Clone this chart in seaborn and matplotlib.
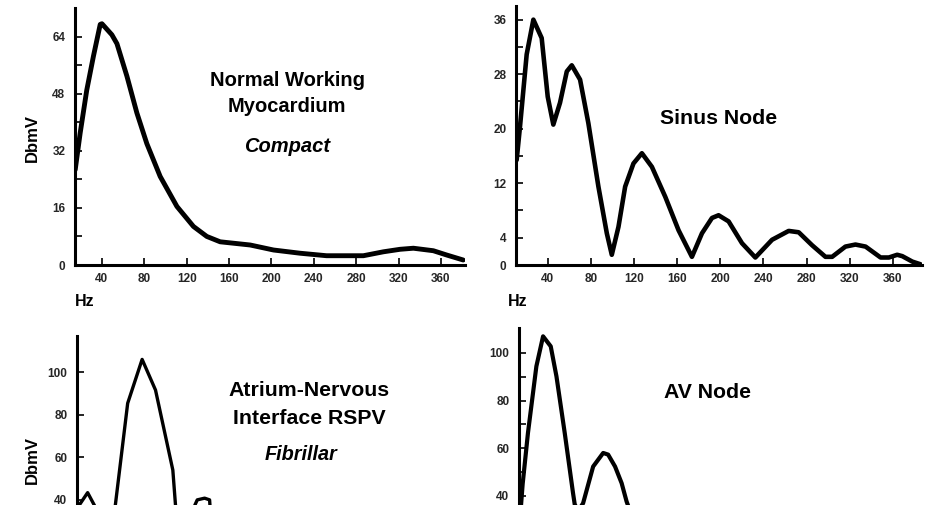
import matplotlib
matplotlib.use("Agg")
import matplotlib.pyplot as plt
import numpy as np
import pandas as pd
import seaborn as sns

sns.set_theme(style="white")
plt.rcParams["font.family"] = ["Liberation Sans Narrow", "Liberation Sans", "DejaVu Sans"]
plt.rcParams["font.weight"] = "bold"

# Normal working myocardium (compact)
myo_hz = [14.8, 19.5, 25.7, 32.0, 38.4, 40.0, 49.4, 54.2, 63.6, 73.0, 82.4, 95.0, 110.8,
          126.4, 139.0, 151.6, 180.0, 202.0, 227.0, 252.0, 286.8, 305.7, 321.4, 334.0,
          352.8, 365.4, 381.0]
myo_db = [26.7, 37.0, 49.0, 58.5, 67.4, 67.6, 64.5, 62.0, 52.9, 42.6, 34.0, 24.8, 16.4,
          10.8, 8.0, 6.5, 5.6, 4.2, 3.3, 2.6, 2.6, 3.7, 4.4, 4.7, 4.0, 2.8, 1.4]

# Sinus node
sinus_hz = [11.2, 14.3, 20.5, 26.7, 34.4, 40.0, 45.2, 51.4, 57.7, 62.3, 70.0, 77.7, 87.0,
            94.8, 99.4, 105.6, 111.8, 119.5, 127.3, 136.6, 149.0, 161.3, 173.7, 183.0,
            192.3, 198.4, 207.7, 220.1, 232.5, 248.0, 263.4, 272.7, 285.1, 297.5, 303.7,
            316.0, 325.3, 334.7, 348.6, 356.3, 364.0, 368.7, 378.0, 385.7]
sinus_db = [15.4, 20.3, 30.9, 36.0, 33.3, 24.7, 20.6, 23.8, 28.4, 29.3, 27.2, 20.8, 11.5,
            4.65, 1.5, 5.6, 11.5, 14.9, 16.4, 14.4, 10.0, 5.1, 1.2, 4.65,
            6.9, 7.3, 6.4, 3.2, 1.1, 3.7, 5.0, 4.8, 2.9, 1.2, 1.2,
            2.7, 3.0, 2.7, 1.1, 1.1, 1.5, 1.3, 0.5, 0.1]

# Atrium-nervous interface RSPV (fibrillar)
rspv_hz = [14.8, 17.0, 24.8, 31.0, 38.0, 45.0, 50.9, 62.5, 76.1, 88.7, 105.0, 107.5,
           114.0, 122.0, 125.8, 128.0, 134.9, 139.6, 140.0, 146.0, 160.0, 180.0, 200.0,
           230.0, 260.0, 290.0, 320.0, 350.0, 378.0]
rspv_db = [30.0, 37.6, 43.4, 37.6, 30.0, 26.0, 37.6, 85.4, 106.0, 91.6, 54.0, 37.6,
           22.0, 28.0, 37.6, 40.0, 40.8, 40.0, 37.0, 24.0, 18.0, 14.0, 12.0,
           10.0, 9.0, 8.0, 7.0, 6.0, 5.0]

# AV node
av_hz = [10.6, 14.0, 18.9, 26.7, 32.9, 40.0, 45.3, 53.0, 60.7, 62.3, 66.0, 70.0, 79.3,
         88.6, 93.2, 99.6, 105.7, 110.3, 118.0, 130.0, 150.0, 180.0, 220.0, 260.0,
         300.0, 340.0, 380.0]
av_db = [25.0, 45.0, 66.4, 94.4, 107.0, 102.8, 90.2, 66.3, 41.0, 36.2, 34.0, 36.9, 52.3,
         58.0, 57.3, 52.3, 45.3, 37.6, 28.0, 22.0, 18.0, 14.0, 10.0, 8.0,
         6.0, 5.0, 4.0]

hz_ticks = [40, 80, 120, 160, 200, 240, 280, 320, 360]

W, H = 932, 505
fig = plt.figure(figsize=(W / 100, H / 100), dpi=100)


def px_axes(x0, x1, ytop, ybot):
    return fig.add_axes([x0 / W, 1 - ybot / H, (x1 - x0) / W, (ybot - ytop) / H])


def px_text(x, y, s, **kw):
    kw.setdefault("ha", "center")
    kw.setdefault("va", "center")
    kw.setdefault("fontweight", "bold")
    fig.text(x / W, 1 - y / H, s, color="black", **kw)


def style(ax, xlim, ylim, yticks, ylabels, yminor=None, show_x=True, tick_fs=8.5):
    ax.set_facecolor("white")
    for side in ["top", "right"]:
        ax.spines[side].set_visible(False)
    for side in ["left", "bottom"]:
        ax.spines[side].set_color("black")
        ax.spines[side].set_linewidth(2.2)
    ax.set_xlim(*xlim)
    ax.set_ylim(*ylim)
    ax.set_xticks(hz_ticks)
    ax.set_xticklabels([str(t) for t in hz_ticks], fontsize=tick_fs, fontweight="bold")
    ax.set_yticks(yticks)
    ax.set_yticklabels(ylabels, fontsize=tick_fs, fontweight="bold")
    if yminor is not None:
        ax.set_yticks(yminor, minor=True)
    ax.tick_params(axis="both", which="both", direction="in", color="black",
                   width=1.2, length=5, left=True, bottom=True)
    ax.tick_params(axis="y", pad=7)
    ax.tick_params(axis="x", pad=6, labelbottom=show_x)
    ax.set_xlabel("")
    ax.set_ylabel("")


def draw(ax, hz, db, lw):
    df = pd.DataFrame({"Hz": hz, "DbmV": db})
    sns.lineplot(data=df, x="Hz", y="DbmV", ax=ax, color="black", linewidth=lw,
                 sort=False, solid_joinstyle="round", solid_capstyle="round")


# top-left
ax1 = px_axes(75, 465, 8, 265)
draw(ax1, myo_hz, myo_db, 3.5)
style(ax1, (14.6, 382.7), (0, 72), [0, 16, 32, 48, 64], ["0", "16", "32", "48", "64"],
      yminor=[8, 24, 40, 56])
px_text(287, 80, "Normal Working", fontsize=14.5)
px_text(287, 107, "Myocardium", fontsize=14.5)
px_text(287, 146, "Compact", fontsize=14.5, style="italic")

# top-right
ax2 = px_axes(516, 922, 6, 265)
draw(ax2, sinus_hz, sinus_db, 3.3)
style(ax2, (10.6, 387), (0, 38), [0, 4, 12, 20, 28, 36], ["0", "4", "12", "20", "28", "36"],
      yminor=[8, 16, 24, 32])
px_text(719, 118, "Sinus Node", fontsize=15.3)

# bottom-left
ax3 = px_axes(77, 465, 336, 585)
draw(ax3, rspv_hz, rspv_db, 2.4)
style(ax3, (14.8, 380), (0, 117), [40, 60, 80, 100], ["40", "60", "80", "100"],
      show_x=False)
px_text(309, 390, "Atrium-Nervous", fontsize=15.3)
px_text(309, 418, "Interface RSPV", fontsize=15.3)
px_text(301, 455, "Fibrillar", fontsize=14.3, style="italic")

# bottom-right
ax4 = px_axes(519, 922, 328, 591)
draw(ax4, av_hz, av_db, 3.0)
style(ax4, (10.6, 384), (0, 110.5), [40, 60, 80, 100], ["40", "60", "80", "100"],
      yminor=[50, 70, 90], show_x=False)
px_text(708, 393, "AV Node", fontsize=15.3)

# axis labels
px_text(75, 302, "Hz", ha="left", fontsize=11.5)
px_text(508, 302, "Hz", ha="left", fontsize=11.5)
px_text(32, 138, "DbmV", rotation=90, fontsize=12)
px_text(32, 460, "DbmV", rotation=90, fontsize=12)

fig.savefig("out.png", dpi=100, facecolor="white")
